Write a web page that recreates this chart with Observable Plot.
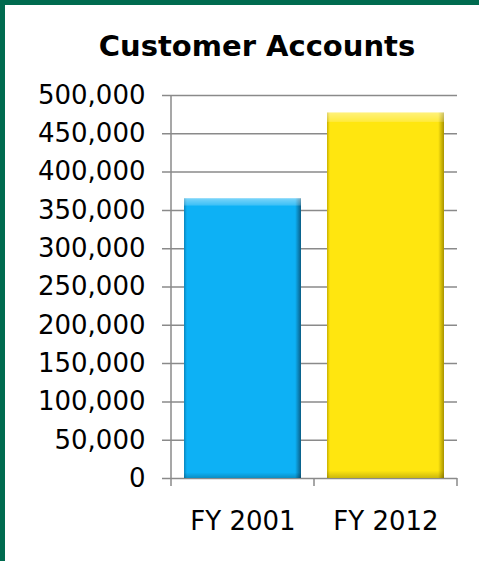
<!DOCTYPE html>
<html>
<head>
<meta charset="utf-8">
<script src="https://cdn.jsdelivr.net/npm/d3@7"></script>
<script src="https://cdn.jsdelivr.net/npm/@observablehq/plot@0.6"></script>
<style>
  html, body { margin: 0; padding: 0; background: #fff; }
  #frame {
    position: relative; width: 479px; height: 561px; box-sizing: border-box;
    border-top: 5px solid #006b4f; border-left: 5px solid #006b4f; background: #fff; overflow: hidden;
  }
  #title {
    position: absolute; left: 0; width: 474px; top: 27px; text-align: center;
    font-family: "DejaVu Sans", Verdana, sans-serif; font-weight: bold; font-size: 29px; line-height: 29px; color: #000;
    padding-left: 30px; box-sizing: border-box;
  }
  #chart { position: absolute; left: 0; top: 70px; }
</style>
</head>
<body>
<svg width="0" height="0" style="position:absolute">
  <defs>
    <linearGradient id="gBlue" x1="0" y1="0" x2="1" y2="0">
      <stop offset="0%" stop-color="#0a86bd"/>
      <stop offset="2.5%" stop-color="#0db1f5"/>
      <stop offset="95%" stop-color="#0db1f5"/>
      <stop offset="100%" stop-color="#0a5d85"/>
    </linearGradient>
    <linearGradient id="gYellow" x1="0" y1="0" x2="1" y2="0">
      <stop offset="0%" stop-color="#c9b000"/>
      <stop offset="2.5%" stop-color="#ffe60f"/>
      <stop offset="95%" stop-color="#ffe60f"/>
      <stop offset="100%" stop-color="#a89300"/>
    </linearGradient>
    <linearGradient id="gBevel" x1="0" y1="0" x2="0" y2="1">
      <stop offset="0%" stop-color="#ffffff" stop-opacity="0.45"/>
      <stop offset="2.4%" stop-color="#ffffff" stop-opacity="0.2"/>
      <stop offset="2.7%" stop-color="#ffffff" stop-opacity="0"/>
      <stop offset="98%" stop-color="#000000" stop-opacity="0"/>
      <stop offset="100%" stop-color="#000000" stop-opacity="0.2"/>
    </linearGradient>
  </defs>
</svg>
<div id="frame">
  <div id="title">Customer Accounts</div>
  <div id="chart"></div>
</div>
<script>
const categories = ["FY 2001", "FY 2012"];
const values = [365000, 477000];
const fills = ["url(#gBlue)", "url(#gYellow)"];
const yTicks = [0, 50000, 100000, 150000, 200000, 250000, 300000, 350000, 400000, 450000, 500000];

const data = categories.map((c, i) => ({cat: c, value: values[i], fill: fills[i]}));
const grid = "#8a8a8a";

const chart = Plot.plot({
  width: 474,
  height: 486,
  marginLeft: 166,
  marginRight: 22,
  marginTop: 20,
  marginBottom: 83,
  style: {fontFamily: "DejaVu Sans, Verdana, sans-serif", fontSize: "26px", color: "#000", background: "transparent", overflow: "visible"},
  x: {domain: categories, paddingInner: 0.18, paddingOuter: 0.09, axis: null, label: null},
  y: {domain: [0, 500000], axis: null, label: null},
  color: {type: "identity"},
  marks: [
    Plot.ruleY(yTicks, {stroke: grid, strokeWidth: 1.5, insetLeft: -9}),
    Plot.barY(data, {x: "cat", y: "value", fill: "fill", style: "filter: drop-shadow(3px 3px 2.5px rgba(0,0,0,0.35))"}),
    Plot.barY(data, {x: "cat", y: "value", fill: "url(#gBevel)"}),
    Plot.axisY({ticks: yTicks, tickSize: 0, tickPadding: 26, tickFormat: d3.format(","), fontSize: 26, label: null}),
    Plot.axisX({tickSize: 0, tickPadding: 33, fontSize: 26, label: null})
  ]
});
document.getElementById("chart").appendChild(chart);

// axis lines and category boundary ticks, positioned from Plot's own scales
const xs = chart.scale("x"), ys = chart.scale("y");
const svg = d3.select(chart);
const y0 = ys.apply(0), yTop = ys.apply(500000);
const gap = (xs.step - xs.bandwidth) / 2;
const bounds = categories.map(c => xs.apply(c) - gap);
bounds.push(xs.apply(categories[categories.length - 1]) + xs.bandwidth + gap);
const g = svg.append("g").attr("stroke", grid).attr("stroke-width", 1.5);
g.append("line").attr("x1", bounds[0]).attr("x2", bounds[0]).attr("y1", yTop).attr("y2", y0 + 8);
bounds.slice(1).forEach(b => g.append("line").attr("x1", b).attr("x2", b).attr("y1", y0).attr("y2", y0 + 8));
</script>
</body>
</html>
